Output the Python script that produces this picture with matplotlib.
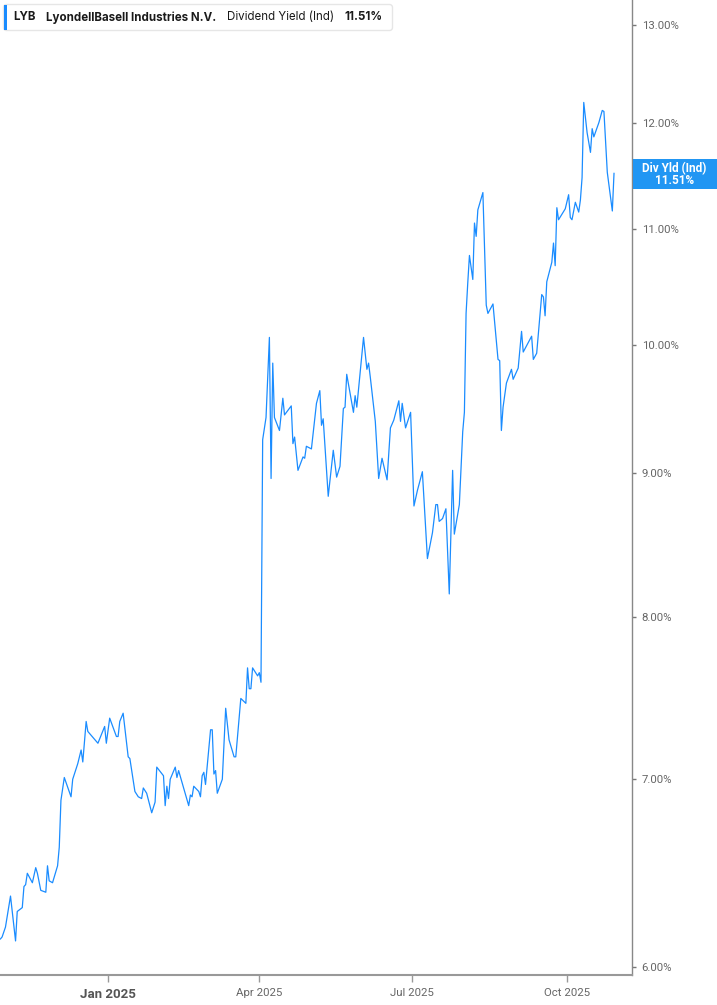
import matplotlib
matplotlib.use("Agg")
import matplotlib.pyplot as plt
import matplotlib.dates as mdates
import matplotlib.transforms as mtransforms
from matplotlib.patches import FancyBboxPatch, Rectangle
from matplotlib.ticker import FixedLocator, FuncFormatter, NullLocator
import pandas as pd

# data (dividend yield, %)
dates = [
    "2024-10-29", "2024-10-30", "2024-11-01", "2024-11-04", "2024-11-07", "2024-11-08",
    "2024-11-11", "2024-11-12", "2024-11-13", "2024-11-14", "2024-11-17", "2024-11-19",
    "2024-11-20", "2024-11-22", "2024-11-25", "2024-11-26", "2024-11-27", "2024-11-29",
    "2024-12-02", "2024-12-03", "2024-12-04", "2024-12-06", "2024-12-10", "2024-12-11",
    "2024-12-14", "2024-12-16", "2024-12-17", "2024-12-19", "2024-12-20", "2024-12-26",
    "2024-12-30", "2024-12-31",
    "2025-01-02", "2025-01-06", "2025-01-07", "2025-01-08", "2025-01-10", "2025-01-13",
    "2025-01-14", "2025-01-17", "2025-01-19", "2025-01-21", "2025-01-22", "2025-01-24",
    "2025-01-27", "2025-01-29", "2025-01-30",
    "2025-02-03", "2025-02-04", "2025-02-05", "2025-02-06", "2025-02-07", "2025-02-10",
    "2025-02-11", "2025-02-12", "2025-02-18", "2025-02-19", "2025-02-20", "2025-02-21",
    "2025-02-24", "2025-02-25", "2025-02-26", "2025-02-27", "2025-02-28",
    "2025-03-03", "2025-03-04", "2025-03-05", "2025-03-06", "2025-03-07", "2025-03-10",
    "2025-03-12", "2025-03-14", "2025-03-17", "2025-03-18", "2025-03-21", "2025-03-24",
    "2025-03-25", "2025-03-26", "2025-03-27", "2025-03-28", "2025-03-31",
    "2025-04-01", "2025-04-02", "2025-04-03", "2025-04-05", "2025-04-07", "2025-04-08",
    "2025-04-09", "2025-04-10", "2025-04-13", "2025-04-15", "2025-04-16", "2025-04-20",
    "2025-04-21", "2025-04-22", "2025-04-24", "2025-04-27", "2025-04-28", "2025-04-29",
    "2025-05-02", "2025-05-05", "2025-05-07", "2025-05-08", "2025-05-09", "2025-05-12",
    "2025-05-15", "2025-05-17", "2025-05-19", "2025-05-21", "2025-05-22", "2025-05-23",
    "2025-05-27", "2025-05-28", "2025-05-29",
    "2025-06-02", "2025-06-04", "2025-06-05", "2025-06-06", "2025-06-09", "2025-06-11",
    "2025-06-13", "2025-06-16", "2025-06-18", "2025-06-20", "2025-06-23", "2025-06-24",
    "2025-06-25", "2025-06-27", "2025-06-30",
    "2025-07-02", "2025-07-04", "2025-07-07", "2025-07-09", "2025-07-10", "2025-07-13",
    "2025-07-15", "2025-07-16", "2025-07-17", "2025-07-19", "2025-07-21", "2025-07-23",
    "2025-07-25", "2025-07-26", "2025-07-29", "2025-07-31",
    "2025-08-01", "2025-08-02", "2025-08-03", "2025-08-04", "2025-08-06", "2025-08-07",
    "2025-08-08", "2025-08-09", "2025-08-12", "2025-08-14", "2025-08-15", "2025-08-18",
    "2025-08-21", "2025-08-22", "2025-08-23", "2025-08-24", "2025-08-26", "2025-08-29",
    "2025-08-30",
    "2025-09-02", "2025-09-04", "2025-09-05", "2025-09-10", "2025-09-11", "2025-09-13",
    "2025-09-16", "2025-09-17", "2025-09-18", "2025-09-19", "2025-09-22", "2025-09-23",
    "2025-09-24", "2025-09-25", "2025-09-26", "2025-09-30",
    "2025-10-02", "2025-10-03", "2025-10-04", "2025-10-06", "2025-10-08", "2025-10-09",
    "2025-10-10", "2025-10-11", "2025-10-13", "2025-10-15", "2025-10-16", "2025-10-17",
    "2025-10-20", "2025-10-22", "2025-10-23", "2025-10-25", "2025-10-28", "2025-10-29",
]
yields = [
    6.14, 6.15, 6.20, 6.36, 6.13, 6.28, 6.30, 6.41, 6.42, 6.48, 6.43, 6.51,
    6.48, 6.39, 6.38, 6.52, 6.44, 6.43,
    6.52, 6.62, 6.88, 7.01, 6.90, 7.00, 7.09, 7.17, 7.10, 7.34, 7.28, 7.21,
    7.31, 7.21,
    7.36, 7.25, 7.25, 7.34, 7.39, 7.13, 7.12, 6.93, 6.90, 6.89, 6.95, 6.92,
    6.81, 6.87, 7.07,
    7.02, 6.85, 6.96, 6.89, 7.00, 7.07, 7.01, 7.05, 6.85, 6.91, 6.90, 6.96,
    6.93, 6.90, 7.02, 7.04, 6.97,
    7.29, 7.29, 7.03, 7.05, 6.92, 7.00, 7.42, 7.23, 7.13, 7.13, 7.48, 7.45,
    7.67, 7.54, 7.54, 7.67, 7.62,
    7.64, 7.58, 9.25, 9.42, 10.06, 8.96, 9.85, 9.42, 9.32, 9.57, 9.44, 9.51,
    9.22, 9.27, 9.02, 9.12, 9.11, 9.20,
    9.18, 9.53, 9.63, 9.36, 9.41, 8.83, 9.17, 8.97, 9.05, 9.49, 9.50, 9.76,
    9.46, 9.59, 9.50,
    10.06, 9.80, 9.85, 9.74, 9.39, 8.96, 9.11, 8.95, 9.34, 9.40, 9.55, 9.39,
    9.53, 9.34, 9.46,
    8.76, 8.87, 9.01, 8.59, 8.39, 8.57, 8.77, 8.77, 8.65, 8.67, 8.74, 8.15,
    9.02, 8.56, 8.77, 9.31,
    9.46, 10.26, 10.52, 10.76, 10.55, 11.05, 10.93, 11.17, 11.33, 10.33, 10.26, 10.34,
    9.88, 9.87, 9.32, 9.50, 9.69, 9.80, 9.72,
    9.81, 10.11, 9.94, 10.07, 9.88, 9.93, 10.42, 10.40, 10.24, 10.53, 10.70, 10.87,
    10.67, 11.19, 11.08, 11.18,
    11.31, 11.10, 11.08, 11.24, 11.15, 11.26, 11.47, 12.20, 11.90, 11.71, 11.94, 11.86,
    12.00, 12.12, 12.11, 11.52, 11.16, 11.51,
]
ytick_vals = [6, 7, 8, 9, 10, 11, 12, 13]
xtick_dates = ["2025-01-01", "2025-04-01", "2025-07-01", "2025-10-01"]
xtick_labels = ["Jan 2025", "Apr 2025", "Jul 2025", "Oct 2025"]
ticker = "LYB"
company = "LyondellBasell Industries N.V."
metric = "Dividend Yield (Ind)"
last_label = "Div Yld (Ind)"

line_color = "#1a8cff"
W, H = 717, 1005

plt.rcParams["font.family"] = ["Roboto", "DejaVu Sans"]

fig = plt.figure(figsize=(W / 100, H / 100), dpi=100)
fig.patch.set_facecolor("white")
# pixel coords (from top-left) -> display
pix = mtransforms.Affine2D().scale(0.01, -0.01).translate(0, H / 100) + fig.dpi_scale_trans

ax = fig.add_axes([0, 30 / H, 632 / W, 975 / H])
x = pd.to_datetime(dates)
ax.plot(x, yields, color=line_color, lw=0.9)

ax.set_yscale("log")
ax.set_ylim(5.961, 13.27)
jan1 = mdates.date2num(pd.Timestamp("2025-01-01"))
ax.set_xlim(jan1 - 64.25, jan1 + 311.7)

ax.yaxis.tick_right()
ax.yaxis.set_major_locator(FixedLocator(ytick_vals))
ax.yaxis.set_minor_locator(NullLocator())
ax.yaxis.set_major_formatter(FuncFormatter(lambda v, p: "{:.2f}%".format(v)))
ax.tick_params(axis="y", which="major", direction="out", length=3, width=1,
               color="#777777", labelcolor="#666666", labelsize=8.2, pad=4)

ax.set_xticks(pd.to_datetime(xtick_dates))
ax.set_xticklabels(xtick_labels)
ax.xaxis.set_minor_locator(NullLocator())
ax.tick_params(axis="x", direction="out", length=5, width=1, color="#999999",
               labelcolor="#666666", labelsize=8.2, pad=4)
lbls = ax.get_xticklabels()
lbls[0].set_fontweight("bold")
lbls[0].set_fontsize(9.5)
lbls[0].set_color("#555555")

for s in ["top", "left"]:
    ax.spines[s].set_visible(False)
ax.spines["right"].set_color("#888888")
ax.spines["right"].set_linewidth(1.0)
ax.spines["bottom"].set_color("#999999")
ax.spines["bottom"].set_linewidth(1.5)
ax.set_facecolor("white")

# header box
fig.patches.append(FancyBboxPatch((3.5, 4.5), 389, 26, boxstyle="round,pad=0,rounding_size=3",
                                  transform=pix, fc="white", ec="#e6e6e6", lw=1))
fig.patches.append(Rectangle((4, 5), 3, 25, transform=pix, fc=line_color, ec="none"))

renderer = fig.canvas.get_renderer()
parts = [(ticker, "bold", 13), (company, "bold", 11), (metric, "normal", 10),
         ("{:.2f}%".format(yields[-1]), "bold", 11)]
cur = 13
for i, (txt, wt, gap) in enumerate(parts):
    if i > 0:
        cur += gap
    t = fig.text(cur, 17.5, txt, transform=pix, fontsize=8.3, fontweight=wt,
                 color="#1a1a1a", va="center", ha="left", family=["Inter", "DejaVu Sans"])
    bb = t.get_window_extent(renderer)
    cur += bb.width

# last value tag
fig.patches.append(Rectangle((632.5, 159), 84.5, 30, transform=pix, fc="#2196f3", ec="none"))
fig.text(674.5, 168.5, last_label, transform=pix, fontsize=8.5, fontweight="bold",
         color="white", ha="center", va="center")
fig.text(674.5, 180, "{:.2f}%".format(yields[-1]), transform=pix, fontsize=8.5,
         fontweight="bold", color="white", ha="center", va="center")

fig.savefig("out.png", dpi=100, facecolor="white")
